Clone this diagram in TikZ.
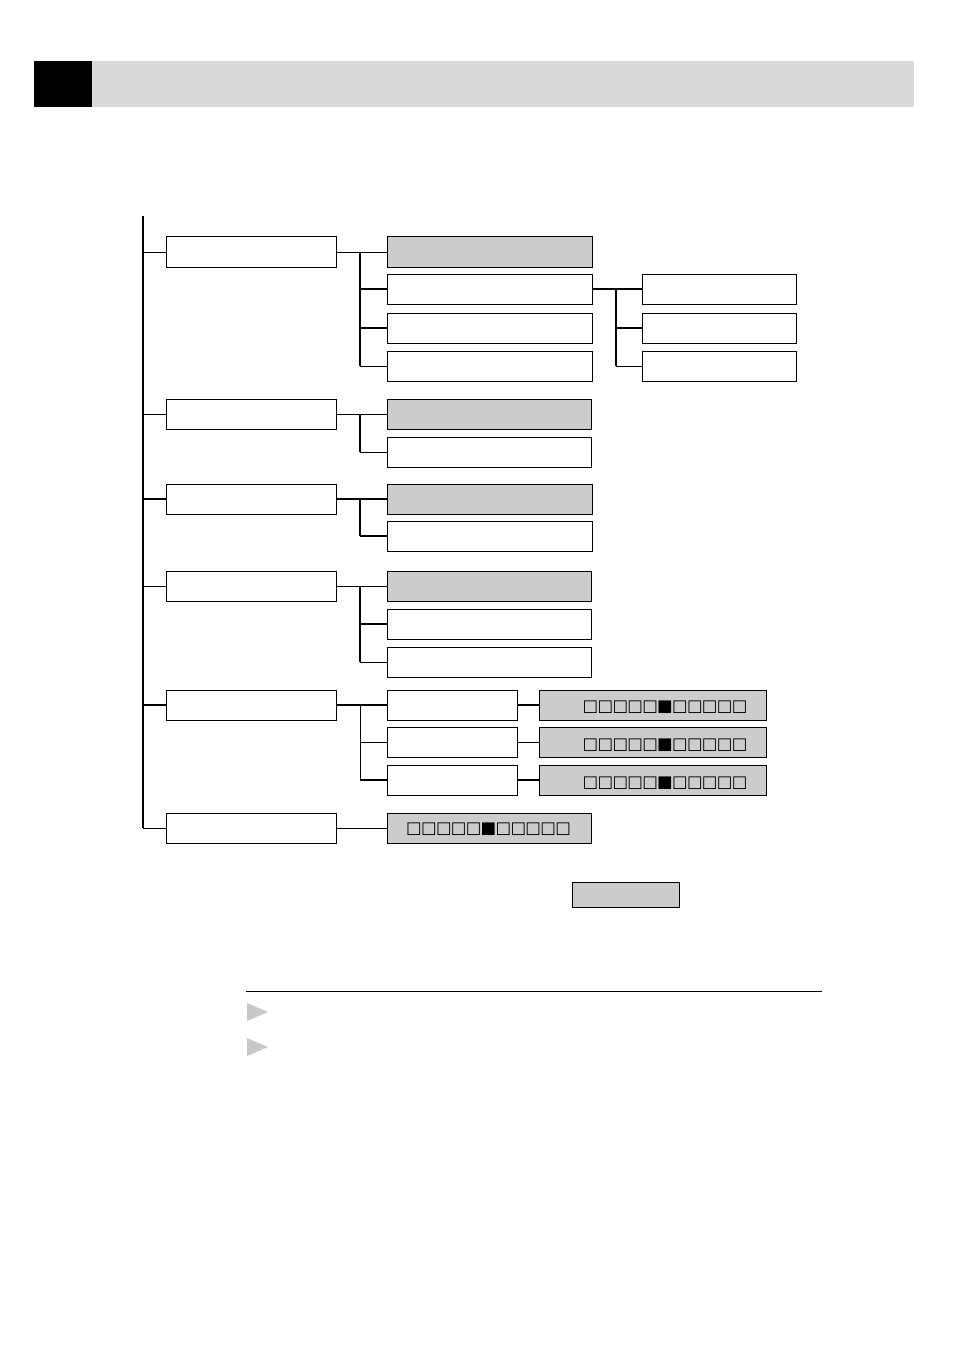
\documentclass[tikz,border=0pt]{standalone}
\usepackage{fontspec}
\newfontfamily\symfont{DejaVu Sans}
\newcommand\sqcell[1]{\makebox[14.9pt]{#1}}
\newcommand\squarerow{\symfont\fontsize{16.5}{16.5}\selectfont\sqcell{□}\sqcell{□}\sqcell{□}\sqcell{□}\sqcell{□}\sqcell{■}\sqcell{□}\sqcell{□}\sqcell{□}\sqcell{□}\sqcell{□}}
\definecolor{boxgrey}{HTML}{CCCCCC}
\definecolor{bargrey}{HTML}{D9D9D9}
\definecolor{trigrey}{HTML}{C8C8C8}
\tikzset{
  wbox/.style={draw=black, line width=1pt, fill=white, inner sep=0pt, minimum height=30pt},
  gbox/.style={wbox, fill=boxgrey},
  thk/.style={line width=2.2pt},
  thn/.style={line width=0.8pt},
  sqrow/.style={inner sep=0pt},
}
\begin{document}
\begin{tikzpicture}[x=1pt,y=-1pt]
\useasboundingbox (0,0) rectangle (954,1348);
% header bar
\fill[black] (34,61) rectangle (92,107);
\fill[bargrey] (92,61) rectangle (914,107);
% helper columns
\coordinate (top) at (143,216);
\coordinate (jx) at (360,0);
\coordinate (kx) at (616,0);
% level 1
\foreach \n/\y in {a1/252,a2/414,a3/499,a4/586,a5/705,a6/828}
  \node[wbox, minimum width=170pt] (\n) at (251,\y) {};
% level 2
\node[gbox, minimum width=205pt] (b11) at (489.5,252) {};
\node[wbox, minimum width=205pt] (b12) at (489.5,289) {};
\node[wbox, minimum width=205pt] (b13) at (489.5,328) {};
\node[wbox, minimum width=205pt] (b14) at (489.5,366) {};
\node[gbox, minimum width=204pt] (b21) at (489,414) {};
\node[wbox, minimum width=204pt] (b22) at (489,452) {};
\node[gbox, minimum width=205pt] (b31) at (489.5,499) {};
\node[wbox, minimum width=205pt] (b32) at (489.5,536) {};
\node[gbox, minimum width=204pt] (b41) at (489,586) {};
\node[wbox, minimum width=204pt] (b42) at (489,624) {};
\node[wbox, minimum width=204pt] (b43) at (489,662) {};
\node[wbox, minimum width=130pt] (b51) at (452,705) {};
\node[wbox, minimum width=130pt] (b52) at (452,742) {};
\node[wbox, minimum width=130pt] (b53) at (452,780) {};
\node[gbox, minimum width=204pt] (b61) at (489,828) {};
% level 3
\node[wbox, minimum width=154pt] (c11) at (719,289) {};
\node[wbox, minimum width=154pt] (c12) at (719,328) {};
\node[wbox, minimum width=154pt] (c13) at (719,366) {};
\node[gbox, minimum width=227pt] (c51) at (652.5,705) {};
\node[gbox, minimum width=227pt] (c52) at (652.5,742) {};
\node[gbox, minimum width=227pt] (c53) at (652.5,780) {};
% square rows
\node[sqrow] (s51) at (665,707) {\squarerow};
\node[sqrow] (s52) at (665,745) {\squarerow};
\node[sqrow] (s53) at (665,783) {\squarerow};
\node[sqrow] (s61) at (488.5,829) {\squarerow};
% small grey box
\node[gbox, minimum width=107pt, minimum height=25pt] (key) at (625.5,894.5) {};
% main spine
\draw[thk] (top) -- (a6.west -| top);
\draw[thn] (a1.west -| top) -- (a1.west);
\draw[thn] (a2.west -| top) -- (a2.west);
\draw[thk] (a3.west -| top) -- (a3.west);
\draw[thn] (a4.west -| top) -- (a4.west);
\draw[thk] (a5.west -| top) -- (a5.west);
\draw[thn] (a6.west -| top) -- (a6.west);
% group 1
\draw[thn] (a1.east) -- (b11.west);
\draw[thk] (b11.west -| jx) -- (b14.west -| jx);
\draw[thk] (b12.west -| jx) -- (b12.west);
\draw[thk] (b13.west -| jx) -- (b13.west);
\draw[thn] (b14.west -| jx) -- (b14.west);
\draw[thk] (b12.east) -- (c11.west);
\draw[thk] (c11.west -| kx) -- (c13.west -| kx);
\draw[thk] (c12.west -| kx) -- (c12.west);
\draw[thn] (c13.west -| kx) -- (c13.west);
% group 2
\draw[thn] (a2.east) -- (b21.west);
\draw[thk] (b21.west -| jx) -- (b22.west -| jx);
\draw[thn] (b22.west -| jx) -- (b22.west);
% group 3
\draw[thk] (a3.east) -- (b31.west);
\draw[thk] (b31.west -| jx) -- (b32.west -| jx);
\draw[thk] (b32.west -| jx) -- (b32.west);
% group 4
\draw[thn] (a4.east) -- (b41.west);
\draw[thk] (b41.west -| jx) -- (b43.west -| jx);
\draw[thk] (b42.west -| jx) -- (b42.west);
\draw[thn] (b43.west -| jx) -- (b43.west);
% group 5
\draw[thk] (a5.east) -- (b51.west);
\draw[thn] (b51.west -| jx) -- (b53.west -| jx);
\draw[thn] (b52.west -| jx) -- (b52.west);
\draw[thk] (b53.west -| jx) -- (b53.west);
\draw[thk] (b51.east) -- (c51.west);
\draw[thn] (b52.east) -- (c52.west);
\draw[thk] (b53.east) -- (c53.west);
% group 6
\draw[thn] (a6.east) -- (b61.west);
% rule and triangles
\coordinate (rl) at (246,991);
\coordinate (rr) at (822,991);
\draw[line width=1pt] (rl) -- (rr);
\fill[trigrey] (247,1003) -- (268,1012) -- (247,1021) -- cycle;
\fill[trigrey] (247,1038) -- (268,1047) -- (247,1056) -- cycle;
\end{tikzpicture}
\end{document}
